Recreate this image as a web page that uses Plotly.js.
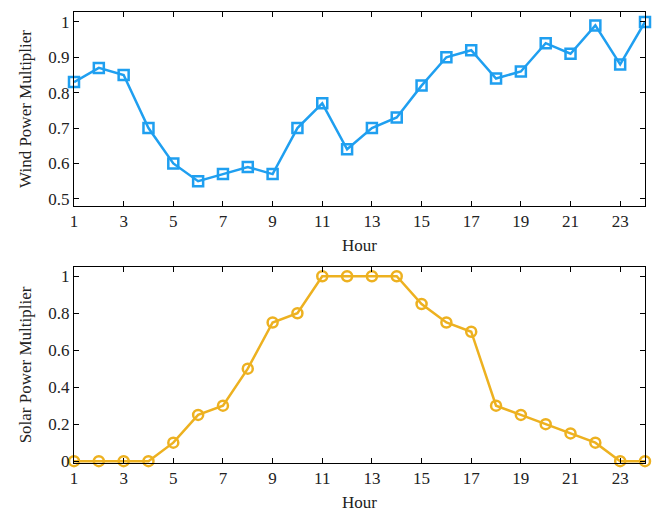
<!DOCTYPE html>
<html><head><meta charset="utf-8">
<script src="https://cdn.plot.ly/plotly-3.0.1.min.js"></script>
<style>html,body{margin:0;padding:0;background:#fff}</style>
</head><body><div id="chart" style="width:654px;height:512px"></div>
<script>
const hours = [1,2,3,4,5,6,7,8,9,10,11,12,13,14,15,16,17,18,19,20,21,22,23,24];
const wind = [0.83,0.87,0.85,0.70,0.60,0.55,0.57,0.59,0.57,0.70,0.77,0.64,0.70,0.73,0.82,0.90,0.92,0.84,0.86,0.94,0.91,0.99,0.88,1.00];
const solar = [0,0,0,0,0.1,0.25,0.3,0.5,0.75,0.8,1,1,1,1,0.85,0.75,0.7,0.3,0.25,0.2,0.15,0.1,0,0];
const xTicks = [1,3,5,7,9,11,13,15,17,19,21,23];
const windTicks = [0.5,0.6,0.7,0.8,0.9,1];
const windTickText = ['0.5','0.6','0.7','0.8','0.9','1'];
const solarTicks = [0,0.2,0.4,0.6,0.8,1];
const solarTickText = ['0','0.2','0.4','0.6','0.8','1'];

const fontFam = 'Liberation Serif, Times New Roman, serif';
const axBase = {
  showline:true, linecolor:'#000', linewidth:1, mirror:'ticks',
  ticks:'inside', ticklen:5, tickwidth:1, tickcolor:'#000',
  showgrid:false, zeroline:false,
  tickfont:{family:fontFam, size:17, color:'#222'}
};
const traces = [
  {x:hours, y:wind, xaxis:'x', yaxis:'y', mode:'lines+markers', cliponaxis:false,
   line:{color:'#1f9ff0', width:2.5},
   marker:{symbol:'square-open', size:10, color:'#1f9ff0', line:{width:2.5, color:'#1f9ff0'}}},
  {x:hours, y:solar, xaxis:'x2', yaxis:'y2', mode:'lines+markers', cliponaxis:false,
   line:{color:'#edb120', width:2.5},
   marker:{symbol:'circle-open', size:10, color:'#edb120', line:{width:2.5, color:'#edb120'}}}
];
const layout = {
  width:654, height:512, showlegend:false,
  paper_bgcolor:'#fff', plot_bgcolor:'#fff',
  margin:{l:74, r:9, t:12, b:49},
  xaxis:Object.assign({}, axBase, {domain:[0,1], anchor:'y', range:[1,24], tickvals:xTicks,
    title:{text:'Hour', font:{family:fontFam, size:17, color:'#222'}, standoff:8}}),
  yaxis:Object.assign({}, axBase, {domain:[0.57,1], anchor:'x', range:[0.48,1.028], tickvals:windTicks, ticktext:windTickText,
    title:{text:'Wind Power Multiplier', font:{family:fontFam, size:17, color:'#222'}, standoff:12}}),
  xaxis2:Object.assign({}, axBase, {domain:[0,1], anchor:'y2', range:[1,24], tickvals:xTicks,
    title:{text:'Hour', font:{family:fontFam, size:17, color:'#222'}, standoff:8}}),
  yaxis2:Object.assign({}, axBase, {domain:[0,0.4346], anchor:'x2', range:[-0.01,1.05], tickvals:solarTicks, ticktext:solarTickText,
    title:{text:'Solar Power Multiplier', font:{family:fontFam, size:17, color:'#222'}, standoff:12}})
};
Plotly.newPlot('chart', traces, layout, {displayModeBar:false, staticPlot:true});
</script></body></html>
